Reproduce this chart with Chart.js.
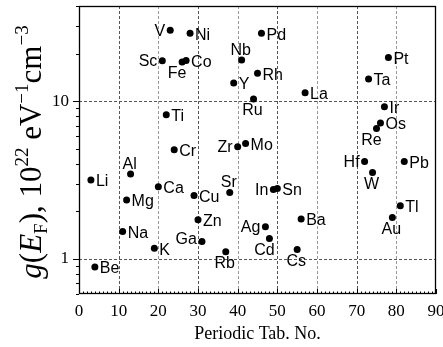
<!DOCTYPE html>
<html><head><meta charset="utf-8">
<script src="https://cdn.jsdelivr.net/npm/chart.js@4/dist/chart.umd.min.js"></script>
<style>html,body{margin:0;padding:0;background:#fff;}</style>
</head><body>
<canvas id="c" width="443" height="347"></canvas>
<script>
// ---- data ----
const symbols = ['Li','Be','Na','Mg','Al','K','Ca','Sc','Ti','V','Cr','Fe','Co','Ni','Cu','Zn','Ga','Rb','Sr','Y','Zr','Nb','Mo','Ru','Rh','Pd','Ag','Cd','In','Sn','Cs','Ba','La','Hf','Ta','W','Re','Os','Ir','Pt','Au','Tl','Pb'];
const atomicNumbers = [3,4,11,12,13,19,20,21,22,23,24,26,27,28,29,30,31,37,38,39,40,41,42,44,45,46,47,48,49,50,55,56,57,72,73,74,75,76,77,78,79,81,82];
const dosValues = [3.16,0.89,1.49,2.36,3.45,1.17,2.87,18.0,8.2,28.1,4.92,17.7,18.1,26.9,2.52,1.77,1.29,1.11,2.64,13.0,5.14,18.2,5.39,10.3,15.0,26.9,1.60,1.35,2.75,2.79,1.15,1.79,11.3,4.15,13.8,3.53,6.71,7.26,9.2,18.9,1.83,2.17,4.15];
const xTickLabels = [0,10,20,30,40,50,60,70,80,90];
const yTickLabels = [1,10];

// label placement (style)
const labelSide = {Li:'r',Be:'r',Na:'r',Mg:'r',Al:'t',K:'r',Ca:'r',Sc:'l',Ti:'r',V:'l',Cr:'r',Fe:'bl',Co:'r',Ni:'r',Cu:'r',Zn:'r',Ga:'tl',Rb:'b',Sr:'t',Y:'r',Zr:'l',Nb:'t',Mo:'r',Ru:'b',Rh:'r',Pd:'r',Ag:'l',Cd:'bl',In:'l',Sn:'r',Cs:'b',Ba:'r',La:'r',Hf:'l',Ta:'r',W:'b',Re:'bl',Os:'r',Ir:'r',Pt:'r',Au:'b',Tl:'r',Pb:'r'};

const SERIF = '"Liberation Serif","Times New Roman",serif';
const SANS = '"Liberation Sans",Arial,sans-serif';

const framePlugin = {
  id: 'frame',
  beforeDatasetsDraw(chart) {
    const {ctx, chartArea: a, scales: {x, y}} = chart;
    const line = (x1, y1, x2, y2) => { ctx.beginPath(); ctx.moveTo(x1, y1); ctx.lineTo(x2, y2); ctx.stroke(); };
    ctx.save();
    ctx.lineWidth = 1;
    ctx.setLineDash([3, 2]);
    xTickLabels.forEach(v => {
      if (v <= x.min || v >= x.max) return;
      const px = Math.round(x.getPixelForValue(v)) + 0.5;
      ctx.strokeStyle = (v / 10) % 2 ? '#555' : '#999';
      line(px, a.top, px, a.bottom);
    });
    yTickLabels.forEach(v => {
      const py = Math.round(y.getPixelForValue(v)) + 0.5;
      ctx.strokeStyle = '#555';
      line(a.left, py, a.right, py);
    });
    ctx.setLineDash([]);
    ctx.strokeStyle = '#000';
    ctx.lineWidth = 1.3;
    ctx.strokeRect(a.left + 0.5, a.top + 0.5, a.right - a.left - 1, a.bottom - a.top - 1);
    ctx.lineWidth = 1;
    for (let z = Math.ceil(x.min); z <= x.max; z++) {
      const px = Math.round(x.getPixelForValue(z)) + 0.5;
      const len = z % 10 === 0 ? 5 : 2.5;
      line(px, a.bottom, px, a.bottom - len);
    }
    for (let d = 0.1; d <= 10; d *= 10) {
      for (let k = 1; k <= 9; k++) {
        const v = +(k * d).toFixed(3);
        if (v < y.min || v > y.max) continue;
        const py = Math.round(y.getPixelForValue(v)) + 0.5;
        const len = (k === 1) ? 6 : 3;
        line(a.left - len, py, a.left, py);
      }
    }
    ctx.restore();
  }
};

const labelPlugin = {
  id: 'ptlabels',
  afterDatasetsDraw(chart) {
    const {ctx} = chart;
    const meta = chart.getDatasetMeta(0);
    ctx.save();
    ctx.fillStyle = '#000';
    ctx.font = '16px ' + SANS;
    meta.data.forEach((el, i) => {
      const s = symbols[i];
      const side = labelSide[s] || 'r';
      let tx = el.x, ty = el.y;
      if (side === 'r') { ctx.textAlign = 'left'; ctx.textBaseline = 'middle'; tx += 5; ty += 2; }
      else if (side === 'l') { ctx.textAlign = 'right'; ctx.textBaseline = 'middle'; tx -= 5; ty += 1; }
      else if (side === 't') { ctx.textAlign = 'center'; ctx.textBaseline = 'alphabetic'; tx -= 1; ty -= 5; }
      else if (side === 'tl') { ctx.textAlign = 'right'; ctx.textBaseline = 'alphabetic'; tx -= 5; ty += 2; }
      else if (side === 'b') { ctx.textAlign = 'center'; ctx.textBaseline = 'top'; ty += 4; tx -= 1; }
      else if (side === 'bl') { ctx.textAlign = 'center'; ctx.textBaseline = 'top'; ty += 4; tx -= 5; }
      ctx.fillText(s, tx, ty);
    });
    ctx.restore();
  }
};

const yTitlePlugin = {
  id: 'ytitle',
  afterDraw(chart) {
    const {ctx, chartArea: a} = chart;
    const F = 31;
    const runs = [
      {t: 'g', it: true, s: 1, dy: 0},
      {t: '(', it: false, s: 1, dy: 0},
      {t: 'E', it: true, s: 1, dy: 0},
      {t: 'F', it: false, s: 0.6, dy: 0.2},
      {t: '), 10', it: false, s: 1, dy: 0},
      {t: '22', it: false, s: 0.6, dy: -0.42},
      {t: ' eV', it: false, s: 1, dy: 0},
      {t: '\u22121', it: false, s: 0.6, dy: -0.42},
      {t: 'cm', it: false, s: 1, dy: 0},
      {t: '\u22123', it: false, s: 0.6, dy: -0.42}
    ];
    ctx.save();
    let total = 0;
    runs.forEach(r => {
      ctx.font = (r.it ? 'italic ' : '') + Math.round(F * r.s) + 'px ' + SERIF;
      r.w = ctx.measureText(r.t).width;
      total += r.w;
    });
    const cy = (a.top + a.bottom) / 2 + 2;
    ctx.translate(41, cy);
    ctx.rotate(-Math.PI / 2);
    ctx.fillStyle = '#000';
    ctx.textBaseline = 'alphabetic';
    ctx.textAlign = 'left';
    let u = -total / 2;
    runs.forEach(r => {
      ctx.font = (r.it ? 'italic ' : '') + Math.round(F * r.s) + 'px ' + SERIF;
      ctx.fillText(r.t, u, r.dy * F);
      u += r.w;
    });
    ctx.restore();
  }
};

new Chart(document.getElementById('c'), {
  type: 'scatter',
  data: {
    datasets: [{
      data: atomicNumbers.map((z, i) => ({x: z, y: dosValues[i]})),
      backgroundColor: '#000',
      borderColor: '#000',
      borderWidth: 0,
      pointRadius: 3.5,
      pointHoverRadius: 3.5
    }]
  },
  options: {
    responsive: false,
    animation: false,
    devicePixelRatio: 1,
    layout: {padding: {top: 6, right: 7, left: 0, bottom: 0}},
    plugins: {legend: {display: false}, tooltip: {enabled: false}},
    scales: {
      x: {
        type: 'linear', min: 0, max: 90,
        afterFit(s) { s.height = 53; s.paddingLeft = 0; s.paddingRight = 0; },
        afterBuildTicks(s) { s.ticks = xTickLabels.map(v => ({value: v})); },
        grid: {display: false, drawTicks: false},
        border: {display: false},
        ticks: {font: {family: SERIF, size: 17}, color: '#000', padding: 7, maxRotation: 0, autoSkip: false, callback: v => String(v)},
        title: {display: true, text: 'Periodic Tab. No.', font: {family: SERIF, size: 18}, color: '#000', padding: {top: 0, bottom: 2}}
      },
      y: {
        type: 'logarithmic', min: 0.6, max: 40,
        afterFit(s) { s.width = 79; s.paddingTop = 0; s.paddingBottom = 0; },
        afterBuildTicks(s) { s.ticks = yTickLabels.map(v => ({value: v})); },
        grid: {display: false, drawTicks: false},
        border: {display: false},
        ticks: {font: {family: SERIF, size: 17}, color: '#000', padding: 10, autoSkip: false, callback: v => String(v)}
      }
    }
  },
  plugins: [framePlugin, labelPlugin, yTitlePlugin]
});
</script>
</body></html>
